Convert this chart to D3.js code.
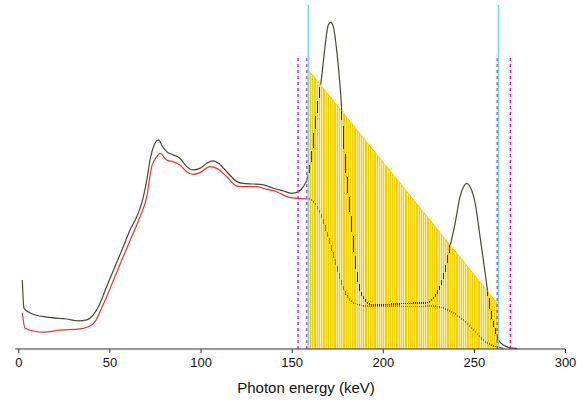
<!DOCTYPE html>
<html>
<head>
<meta charset="utf-8">
<script src="https://cdn.jsdelivr.net/npm/d3@7/dist/d3.min.js"></script>
<style>
  html, body { margin: 0; padding: 0; background: #ffffff; }
  svg { display: block; }
  text { font-family: "Liberation Sans", Arial, sans-serif; fill: #111; }
</style>
</head>
<body>
<script>
// Measured spectrum (energy in keV, counts in arbitrary units)
const totalEnergy = [2.2, 3.1, 6.4, 15.6, 26.5, 33, 37.5, 41, 44.8, 48.5, 53, 57.6, 61.3, 65, 67.7,
  70.5, 72.3, 75, 76.9, 78.7, 81.4, 85, 88.7, 92.4, 96, 99.7, 103.4, 107, 109.8, 114.4,
  119.9, 123.5, 129, 134.5, 140, 145.4, 150, 153.7, 156.4, 158.3, 160.1, 161.4, 162.8, 164.7, 166.5,
  168.3, 170.1, 171.4, 172.9, 174.7, 176.6, 178.4, 180.2, 181.7, 183.9, 185.3, 187.5, 190.3, 193.9, 199.4,
  205.8, 215, 224.1, 227.8, 231.4, 234.2, 236.9, 239.7, 242.4, 244.3, 246.1, 247.9, 250.7, 253.4, 256.2,
  258, 259.8, 261.7, 263.5, 266.2, 269.9, 273.6];
const totalCounts = [23.0, 13.6, 12.1, 10.6, 10.0, 9.4, 9.7, 11.3, 15.2, 20.8, 27.4, 34.1, 39.7, 44.1, 48.6,
  56.3, 63, 68.6, 69.7, 68, 65.8, 64.7, 63.6, 60.8, 59.7, 60.2, 61.9, 62.7, 61.9, 59.1,
  55.8, 55.2, 55, 54.7, 53.6, 52.7, 51.9, 52.4, 54.1, 56.3, 60.8, 66.3, 74.1, 83, 90.8,
  100.8, 108, 108.9, 107.4, 99.7, 87.4, 70.8, 57.4, 48.6, 35.2, 27.4, 19.7, 16.3, 14.7, 14.7,
  15, 15.2, 15.4, 16.9, 20.8, 26.3, 34.1, 41.9, 50.8, 54.1, 55.2, 54.1, 48.6, 37.4, 25.2,
  17.4, 10.8, 6.3, 3, 1.3, 0.4, 0.2];

// Scatter component
const scatterEnergy = [2.2, 3.7, 8.2, 13.7, 22.9, 33.9, 38.4, 42.1, 44.8, 48.5, 53, 57.6, 62.2, 66.8, 70.5,
  73.2, 76, 77.8, 81.4, 85, 88.7, 92.4, 96, 99.7, 105.2, 108.9, 114.4, 119.9, 125.4, 130.8,
  136.3, 141.8, 147.3, 152.8, 159.2, 162.8, 166.5, 170.1, 173.8, 177.5, 181.1, 184.8, 190.3, 197.6, 205.8,
  215, 227.8, 235.1, 240.6, 246.1, 251.6, 256.2, 260.7, 263.5, 266.2];
const scatterCounts = [12.1, 6.9, 6.0, 5.6, 6.3, 6.7, 7.4, 9.1, 12.4, 17.4, 24.1, 30.8, 37.4, 44.1, 50.8,
  60.8, 64.1, 65.2, 63, 62.4, 61.3, 59.1, 58.2, 58.8, 60.8, 60.2, 57.4, 54.3, 54.1, 54.1,
  53.2, 52.4, 50.8, 50.2, 50, 48.6, 44.1, 37.4, 29.7, 21.9, 16.9, 15.2, 14.3, 14.3, 14.3,
  14.1, 14.3, 13.2, 11.3, 8.6, 5.2, 2.4, 1.1, 0.6, 0.2];

// Acquisition window (energy limits and weighting at each limit)
const windowEnergy = [159.2, 263.5];
const windowWeight = [93, 14.7];

// Window boundary markers
const windowEdges = [159.2, 263.5];
const outerMarkers = [153.5, 270];
const innerMarkers = [158.3, 262.8];

const xTicks = [0, 50, 100, 150, 200, 250, 300];
const xTitle = "Photon energy (keV)";

const W = 588, H = 405;
const x = d3.scaleLinear().domain([0, 300]).range([18.3, 565]);
const y = d3.scaleLinear().domain([0, 110]).range([349, 19]);

const svg = d3.select("body").append("svg").attr("width", W).attr("height", H);
svg.append("rect").attr("width", W).attr("height", H).attr("fill", "#ffffff");

const defs = svg.append("defs");

const windowData = windowEnergy.map((e, i) => ({ e, w: windowWeight[i] }));
const windowArea = d3.area().x(d => x(d.e)).y0(y(0)).y1(d => y(d.w));

defs.append("clipPath").attr("id", "windowClip")
  .append("path").attr("d", windowArea(windowData));

// Every other pixel column, used to let the spectra show through the fill
const sieve = defs.append("pattern").attr("id", "sieve")
  .attr("patternUnits", "userSpaceOnUse").attr("width", 2).attr("height", 4);
sieve.append("rect").attr("x", 1).attr("y", 0).attr("width", 1).attr("height", 4)
  .attr("fill", "#ffffff").attr("shape-rendering", "crispEdges");

const mask = defs.append("mask").attr("id", "inWindow")
  .attr("maskUnits", "userSpaceOnUse")
  .attr("x", 0).attr("y", 0).attr("width", W).attr("height", H);
mask.append("path").attr("d", windowArea(windowData)).attr("fill", "url(#sieve)");

const totalData = totalEnergy.map((e, i) => ({ e, c: totalCounts[i] }));
const scatterData = scatterEnergy.map((e, i) => ({ e, c: scatterCounts[i] }));
const line = d3.line().x(d => x(d.e)).y(d => y(d.c)).curve(d3.curveMonotoneX);

const totalColor = "#4a4a30";
const scatterColor = "#ff2a2a";

// Spectra, full length
svg.append("path").attr("d", line(scatterData)).attr("fill", "none")
  .attr("stroke", scatterColor).attr("stroke-width", 1.2);
svg.append("path").attr("d", line(totalData)).attr("fill", "none")
  .attr("stroke", totalColor).attr("stroke-width", 1.2);

// Weighted acquisition window: pale fill with a gold line at each 1 keV channel
svg.append("path").attr("d", windowArea(windowData)).attr("fill", "#ffeea6");
const channels = d3.range(Math.ceil(windowEnergy[0]), windowEnergy[1], 1);
svg.append("g").attr("clip-path", "url(#windowClip)")
  .selectAll("line").data(channels).join("line")
  .attr("x1", d => Math.round(x(d)) + 0.5).attr("x2", d => Math.round(x(d)) + 0.5)
  .attr("y1", y(0)).attr("y2", y(windowWeight[0]) - 2)
  .attr("stroke", "#ffcc00").attr("stroke-width", 1)
  .attr("shape-rendering", "crispEdges");
svg.append("line")
  .attr("x1", x(windowEnergy[0])).attr("y1", y(windowWeight[0]))
  .attr("x2", x(windowEnergy[1])).attr("y2", y(windowWeight[1]))
  .attr("stroke", "#ffc800").attr("stroke-width", 1);

// Spectra seen through the window fill
const seen = svg.append("g").attr("mask", "url(#inWindow)");
seen.append("path").attr("d", line(scatterData)).attr("fill", "none")
  .attr("stroke", "#ff3a1a").attr("stroke-width", 1.6).attr("shape-rendering", "crispEdges");
seen.append("path").attr("d", line(totalData)).attr("fill", "none")
  .attr("stroke", "#2e2e12").attr("stroke-width", 1.6).attr("shape-rendering", "crispEdges");

// Window edges
svg.selectAll(".edge").data(windowEdges).join("line").attr("class", "edge")
  .attr("x1", d => x(d)).attr("x2", d => x(d))
  .attr("y1", y(114.7)).attr("y2", y(0))
  .attr("stroke", "#72dcdc").attr("stroke-width", 1.6);

svg.selectAll(".outer").data(outerMarkers).join("line").attr("class", "outer")
  .attr("x1", d => x(d)).attr("x2", d => x(d))
  .attr("y1", y(97)).attr("y2", y(0))
  .attr("stroke", "#ff00ff").attr("stroke-width", 1.4)
  .attr("stroke-dasharray", "3,3");

svg.selectAll(".inner").data(innerMarkers).join("line").attr("class", "inner")
  .attr("x1", d => x(d)).attr("x2", d => x(d))
  .attr("y1", y(97)).attr("y2", y(0))
  .attr("stroke", "#b44cf4").attr("stroke-width", 1.4)
  .attr("stroke-dasharray", "3,3");

// Energy axis
const axis = d3.axisBottom(x).tickValues(xTicks).tickSize(4).tickSizeOuter(0).tickPadding(5);
const gx = svg.append("g").attr("transform", `translate(0,${y(0)})`).call(axis);
gx.select(".domain").remove();
gx.append("line").attr("x1", x.range()[0] - 3).attr("x2", x.range()[1])
  .attr("y1", 0).attr("y2", 0).attr("stroke", "#333").attr("stroke-width", 1);
gx.selectAll(".tick line").attr("stroke", "#333");
gx.selectAll(".tick text").attr("font-size", 13).attr("fill", "#111")
  .attr("font-family", "'Liberation Sans', Arial, sans-serif");

svg.append("text").attr("x", 306).attr("y", 393)
  .attr("text-anchor", "middle").attr("font-size", 15).text(xTitle);
</script>
</body>
</html>
